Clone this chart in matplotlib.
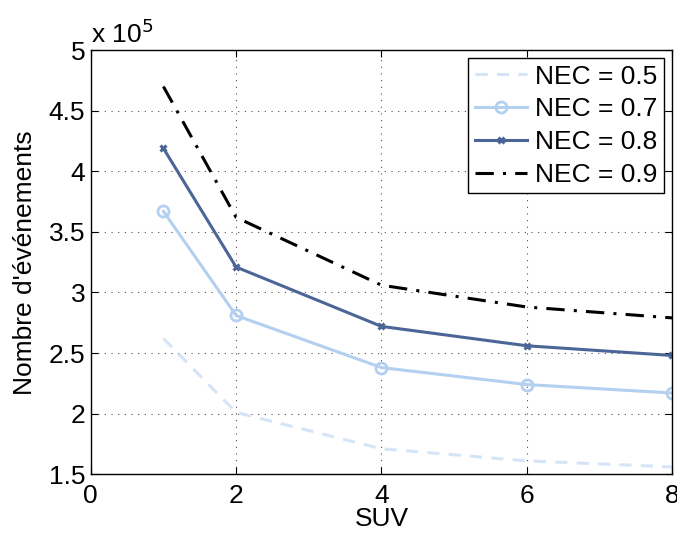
import matplotlib
matplotlib.use("Agg")
import matplotlib.pyplot as plt

plt.rcParams['font.family'] = ['Liberation Sans', 'DejaVu Sans']

suv = [1, 2, 4, 6, 8]
# values in units of 1e5
nec05 = [2.62, 2.01, 1.71, 1.61, 1.56]
nec07 = [3.67, 2.81, 2.38, 2.24, 2.17]
nec08 = [4.19, 3.21, 2.72, 2.56, 2.48]
nec09 = [4.70, 3.62, 3.06, 2.88, 2.79]
labels = ["NEC = 0.5", "NEC = 0.7", "NEC = 0.8", "NEC = 0.9"]

fs = 19
fig = plt.figure(figsize=(6.77, 5.34), dpi=100)
ax = fig.add_axes([0.134, 0.112, 0.859, 0.794])

ax.plot(suv, nec05, ls=(0, (4, 3)), color="#d5e5f7", lw=2.2, label=labels[0])
ax.plot(suv, nec07, color="#b3d0f0", lw=2.2, marker="o", ms=8, mfc="none", mew=2, label=labels[1])
ax.plot(suv, nec08, color="#4b6696", lw=2.2, marker="x", ms=5, mew=2.2, label=labels[2])
ax.plot(suv, nec09, color="black", lw=2.2, ls=(0, (6, 3, 1, 3)), label=labels[3])

ax.set_xlim(0, 8)
ax.set_ylim(1.5, 5)
ax.set_xticks([0, 2, 4, 6, 8])
ax.set_yticks([1.5, 2, 2.5, 3, 3.5, 4, 4.5, 5])
ax.set_yticklabels(["1.5", "2", "2.5", "3", "3.5", "4", "4.5", "5"])
ax.tick_params(direction="in", top=True, right=True, labelsize=fs, length=5)
ax.tick_params(axis="x", pad=7)
ax.tick_params(axis="y", pad=4)
ax.grid(True, ls=(0, (1, 5)), color="black", lw=0.8, alpha=0.7)
for s in ax.spines.values():
    s.set_linewidth(1.0)
ax.set_xlabel("SUV", fontsize=fs, labelpad=-1)
ax.set_ylabel("Nombre d'événements", fontsize=fs, labelpad=8)
ax.text(0.0, 1.005, "x 10$^5$", transform=ax.transAxes, fontsize=fs, va="bottom", ha="left")

leg = ax.legend(loc="upper right", fontsize=fs, fancybox=False, edgecolor="black",
                framealpha=1, borderaxespad=0.3, handlelength=2.0, labelspacing=0.33,
                handletextpad=0.3, borderpad=0.25)
leg.get_frame().set_linewidth(1.0)

fig.savefig("out.png", dpi=100)
